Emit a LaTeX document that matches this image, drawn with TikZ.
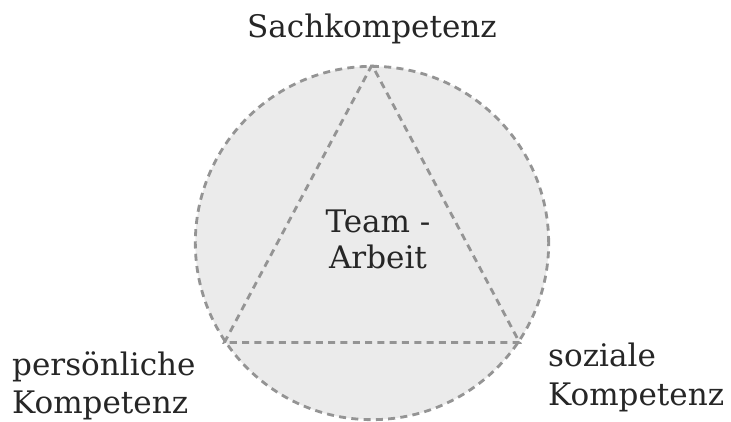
\documentclass[tikz,border=0pt]{standalone}
\usepackage{fontspec}
\setmainfont{DejaVu Serif}
\usepackage{tikz}

\begin{document}
\begin{tikzpicture}[
  dashline/.style={draw=black!42, line width=2.4pt, dash pattern=on 6pt off 4.5pt},
  label/.style={font=\fontsize{26.5}{33}\selectfont, text=black!85, inner sep=0pt},
]
\useasboundingbox (-11.16,-5.34) rectangle (10.77,7.29);
\node[circle, fill=black!8, dashline, minimum size=10.6cm, inner sep=0pt] (disc) at (0,0) {};
\coordinate (apex) at (disc.90);
\coordinate (lcorner) at (disc.214);
\coordinate (rcorner) at (disc.326);
\draw[dashline] (apex) -- (lcorner) -- (rcorner) -- cycle;
\node[label, anchor=base] (sach) at (0,6.18) {Sachkompetenz};
\node[label, align=center, anchor=north, font=\fontsize{26.5}{30}\selectfont] (team) at (0.18,0.99) {Team -\\Arbeit};
\node[label, align=left, anchor=north west] (pers) at (-10.8,-3.24) {persönliche\\Kompetenz};
\node[label, align=left, anchor=north west] (soz) at (5.28,-3.0) {soziale\\Kompetenz};
\end{tikzpicture}
\end{document}
